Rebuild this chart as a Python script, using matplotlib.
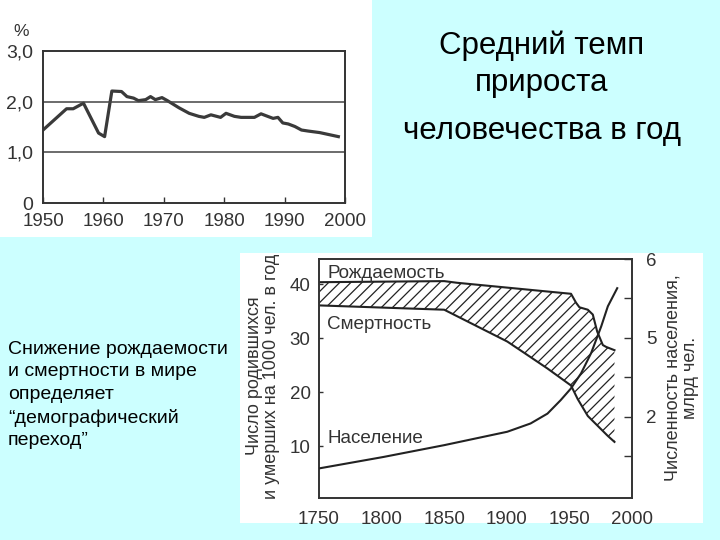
import matplotlib
matplotlib.use("Agg")
import matplotlib.pyplot as plt
from matplotlib.patches import Rectangle
import numpy as np

plt.rcParams['font.family'] = ['Liberation Sans', 'DejaVu Sans']
plt.rcParams['hatch.linewidth'] = 0.9

# ---- Top chart data: average annual growth rate, %
growth_years = [1950, 1953.9, 1955, 1956.7, 1959.2, 1960.2, 1961.4, 1963, 1963.9, 1965,
                1965.8, 1967, 1967.8, 1968.6, 1969.7, 1970.6, 1972.5, 1974.2, 1975.8,
                1976.7, 1977.8, 1979.4, 1980.3, 1981.7, 1982.8, 1985, 1986.1, 1987.2,
                1988.1, 1988.9, 1989.7, 1990.6, 1991.7, 1992.8, 1993.9, 1995.8, 1998.9]
growth_rate = [1.44, 1.86, 1.86, 1.97, 1.38, 1.31, 2.21, 2.20, 2.10, 2.07,
               2.02, 2.04, 2.10, 2.04, 2.08, 2.02, 1.88, 1.77, 1.71,
               1.69, 1.74, 1.69, 1.77, 1.71, 1.69, 1.69, 1.76, 1.71,
               1.67, 1.69, 1.58, 1.56, 1.51, 1.44, 1.42, 1.39, 1.31]
top_xticks = [1950, 1960, 1970, 1980, 1990, 2000]
top_yticks = [0, 1, 2, 3]
top_yticklabels = ["0", "1,0", "2,0", "3,0"]
top_gridlines = [1.0, 2.0]

# ---- Bottom chart data: births / deaths per 1000 and population
birth_years = [1750, 1850, 1860, 1951.3, 1955.3, 1958, 1964.7, 1968.7, 1972.2, 1976.7, 1979.4, 1986]
birth_rate = [40.4, 40.6, 40.3, 38.25, 36.6, 35.75, 35.3, 34.4, 31.25, 28.75, 28.4, 27.8]
death_years = [1750, 1850, 1900.4, 1916.5, 1932.5, 1951.3, 1956.6, 1964.7, 1972.7, 1980.7, 1986]
death_rate = [36.1, 35.3, 29.4, 26.9, 24.4, 21.25, 18.75, 15.6, 13.75, 11.9, 10.8]
pop_years = [1750, 1801.4, 1850, 1900.4, 1919, 1932.5, 1943, 1951.3, 1959.3, 1967.3, 1975.4, 1980.7, 1988.2]
pop_axis = [0.69, 0.98, 1.28, 1.62, 1.83, 2.08, 2.42, 2.72, 3.10, 3.61, 4.29, 4.80, 5.26]
bottom_xticks = [1750, 1800, 1850, 1900, 1950, 2000]
left_yticks = [10, 20, 30, 40]
right_ytick_pos = [1, 2, 3, 4, 5, 6]
right_ytick_labels = ["", "2", "", "5", "", "6"]

fill_x = sorted(set(birth_years) | set(death_years))
fill_b = np.interp(fill_x, birth_years, birth_rate)
fill_d = np.interp(fill_x, death_years, death_rate)

W, H = 720, 540
fig = plt.figure(figsize=(7.2, 5.4), dpi=100, facecolor='#CCFFFF')

def fx(px):
    return px / W

def fy(py):
    return 1 - py / H

# white panels (scanned images)
fig.patches.append(Rectangle((fx(0), fy(237)), fx(372), 237 / H, transform=fig.transFigure,
                             facecolor='white', edgecolor='none', zorder=-5))
fig.patches.append(Rectangle((fx(240), fy(523)), fx(463), 270 / H, transform=fig.transFigure,
                             facecolor='white', edgecolor='none', zorder=-5))

ink = '#333333'

# ---- Top chart
ax1 = fig.add_axes([fx(43), fy(203), fx(345 - 43), (203 - 51) / H])
ax1.set_facecolor('none')
ax1.plot(growth_years, growth_rate, color='#3a3a3a', lw=2.3, solid_joinstyle='round')
for g in top_gridlines:
    ax1.axhline(g, color='#444444', lw=1.1)
ax1.set_xlim(1950, 2000)
ax1.set_ylim(0, 3)
ax1.set_xticks(top_xticks)
ax1.set_yticks(top_yticks)
ax1.set_yticklabels(top_yticklabels)
ax1.tick_params(axis='x', direction='in', length=4, width=1, colors=ink, labelsize=13.5, pad=7)
ax1.tick_params(axis='y', length=0, colors=ink, labelsize=14, pad=7)
for s in ax1.spines.values():
    s.set_linewidth(1.4)
    s.set_color(ink)
fig.text(fx(21), fy(32), '%', fontsize=12.5, color=ink, ha='center', va='center')

# ---- Bottom chart
ax2 = fig.add_axes([fx(319), fy(498), fx(632 - 319), (498 - 259) / H])
ax2.set_facecolor('none')
ax2.fill_between(fill_x, fill_d, fill_b, facecolor='none', edgecolor='#222222', hatch='///', lw=0)
ax2.plot(birth_years, birth_rate, color='#222222', lw=1.5)
ax2.plot(death_years, death_rate, color='#222222', lw=1.5)
ax2.set_xlim(1750, 2000)
ax2.set_ylim(0.4, 44.7)
ax2.set_xticks(bottom_xticks)
ax2.set_yticks(left_yticks)
ax2.tick_params(axis='x', length=0, colors=ink, labelsize=13.5, pad=9)
ax2.tick_params(axis='y', direction='in', length=3, width=1, colors=ink, labelsize=13.5, pad=6)
ax2.tick_params(axis='y', right=False)
for s in ax2.spines.values():
    s.set_linewidth(1.4)
    s.set_color(ink)

ax3 = ax2.twinx()
ax3.plot(pop_years, pop_axis, color='#222222', lw=1.5)
ax3.set_ylim(-0.06, 6)
ax3.set_yticks(right_ytick_pos)
ax3.set_yticklabels(right_ytick_labels)
ax3.tick_params(axis='y', direction='in', length=6, width=1, colors=ink, labelsize=13.5, pad=10)
for s in ax3.spines.values():
    s.set_visible(False)

ax2.text(1756.4, 42.1, 'Рождаемость', fontsize=13.6, color=ink, ha='left', va='center')
ax2.text(1756.4, 32.5, 'Смертность', fontsize=13.6, color=ink, ha='left', va='center')
ax2.text(1756.4, 11.5, 'Население', fontsize=13.6, color=ink, ha='left', va='center')

fig.text(fx(263), fy(376), 'Число родившихся\nи умерших на 1000 чел. в год', rotation=90,
         fontsize=13, color=ink, ha='center', va='center', multialignment='center', linespacing=1.05)
fig.text(fx(682), fy(378), 'Численность населения,\nмлрд чел.', rotation=90,
         fontsize=13, color=ink, ha='center', va='center', multialignment='center', linespacing=1.05)

# ---- Slide texts
fig.text(fx(542), fy(46), 'Средний темп', fontsize=22.5, color='black', ha='center', va='center')
fig.text(fx(542), fy(83), 'прироста', fontsize=22.5, color='black', ha='center', va='center')
fig.text(fx(542), fy(131), 'человечества в год', fontsize=22.5, color='black', ha='center', va='center')

fig.text(fx(8), fy(395),
         'Снижение рождаемости\nи смертности в мире\nопределяет\n\u201cдемографический\nпереход\u201d',
         fontsize=14, color='black', ha='left', va='center', linespacing=1.43)

fig.savefig('out.png', dpi=100, facecolor=fig.get_facecolor())
